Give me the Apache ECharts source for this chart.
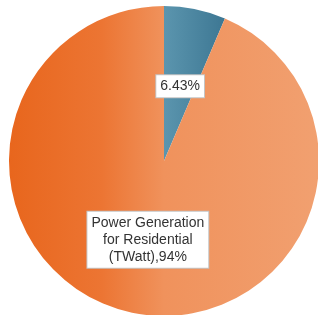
<!DOCTYPE html>
<html>
<head>
<meta charset="utf-8">
<script src="https://cdn.jsdelivr.net/npm/echarts@6/dist/echarts.min.js"></script>
<style>
  html, body { margin: 0; padding: 0; background: #fff; }
  #chart { width: 318px; height: 315px; }
</style>
</head>
<body>
<div id="chart"></div>
<script>
// slice names, values and label texts
const sliceNames = ['Other', 'Power Generation for Residential (TWatt)'];
const sliceValues = [6.43, 93.57];
const sliceLabels = ['6.43%', 'Power Generation\nfor Residential\n(TWatt),94%'];

const blueFill = new echarts.graphic.LinearGradient(0, 0, 1, 0, [
  { offset: 0, color: '#5b95ae' },
  { offset: 1, color: '#3d7793' }
]);
const orangeFill = new echarts.graphic.LinearGradient(0, 0, 1, 0, [
  { offset: 0, color: '#e8661d' },
  { offset: 0.3, color: '#ec7533' },
  { offset: 0.5, color: '#f0925c' },
  { offset: 1, color: '#f1a070' }
]);
const fills = [blueFill, orangeFill];
const labelShift = [[0, 4], [0, 0]];

const chart = echarts.init(document.getElementById('chart'), null, { renderer: 'canvas' });

chart.setOption({
  animation: false,
  series: [{
    type: 'pie',
    center: [164, 161],
    radius: [0, 155],
    startAngle: 90,
    clockwise: true,
    avoidLabelOverlap: false,
    label: {
      show: true,
      position: 'inside',
      formatter: p => sliceLabels[p.dataIndex],
      fontFamily: 'Liberation Sans, Arial, sans-serif',
      fontSize: 14,
      lineHeight: 17,
      color: '#333',
      backgroundColor: '#fff',
      borderColor: '#c4c4c4',
      borderWidth: 1,
      padding: [3, 4, 2, 4],
      align: 'center'
    },
    labelLine: { show: false },
    itemStyle: { borderWidth: 0 },
    emphasis: { disabled: true },
    data: sliceValues.map((v, i) => ({
      name: sliceNames[i],
      value: v,
      itemStyle: { color: fills[i] },
      label: { offset: labelShift[i] }
    }))
  }]
});
</script>
</body>
</html>
